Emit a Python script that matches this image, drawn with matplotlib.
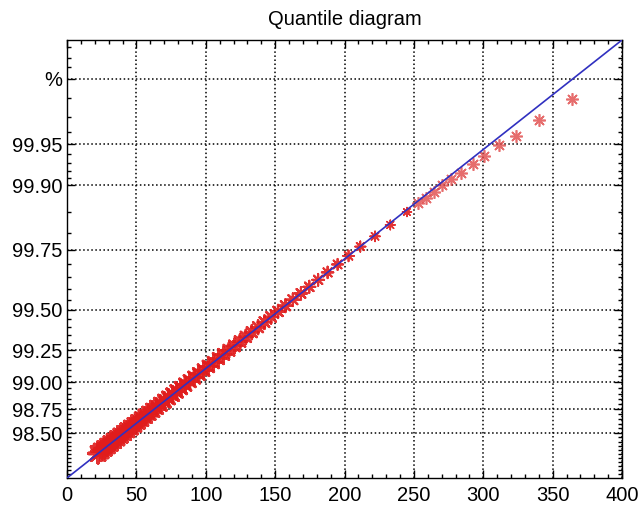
import numpy as np
import matplotlib
matplotlib.use("Agg")
import matplotlib.pyplot as plt
from matplotlib.ticker import FixedLocator, FixedFormatter, MultipleLocator

plt.rcParams['font.family'] = ['Liberation Sans', 'DejaVu Sans']

# sample quantiles (x) and their plotting positions in % (y)
band_x = [22.4, 24.6, 26.9, 29.2, 31.5, 33.8, 36.2, 38.6, 41.1, 43.5,
          46.0, 48.6, 51.1, 53.7, 56.4, 59.0, 61.8, 64.5, 67.3, 70.2,
          73.1, 76.1, 79.0, 82.1, 85.2, 88.4, 91.7, 95.0, 98.4, 101.9,
          105.5, 109.1, 112.9, 116.7, 120.6, 124.7, 128.9, 133.2, 137.7, 142.3,
          147.1, 152.1, 157.4, 162.8, 168.6, 174.6, 181.0, 187.8, 195.0, 202.9,
          211.4, 222.0, 233.0, 245.0]
band_p = [98.26, 98.29, 98.32, 98.35, 98.38, 98.41, 98.44, 98.47, 98.50, 98.53,
          98.56, 98.59, 98.62, 98.65, 98.68, 98.71, 98.74, 98.77, 98.80, 98.83,
          98.86, 98.89, 98.92, 98.95, 98.98, 99.01, 99.04, 99.07, 99.10, 99.13,
          99.16, 99.19, 99.22, 99.25, 99.28, 99.31, 99.34, 99.37, 99.40, 99.43,
          99.46, 99.49, 99.52, 99.55, 99.58, 99.61, 99.64, 99.67, 99.70, 99.73,
          99.76, 99.79, 99.82, 99.85]

tail_x = [252.8, 258.7, 264.7, 270.3, 276.5, 284.0, 292.4, 300.8, 311.1, 323.6, 340.0, 363.7]
tail_p = [99.8679, 99.8775, 99.8886, 99.8999, 99.9087, 99.9172, 99.9287, 99.9384,
          99.9492, 99.9569, 99.9683, 99.9794]

# fitted distribution line
fit_x = [0, 400]
fit_p = [97.9416, 99.99505]

ytick_vals = [98.50, 98.75, 99.00, 99.25, 99.50, 99.75, 99.90, 99.95, 99.987]
ytick_labels = ['98.50', '98.75', '99.00', '99.25', '99.50', '99.75', '99.90', '99.95', '%']


def forward(p):
    p = np.clip(np.asarray(p, dtype=float), 1e-6, 100 - 1e-9)
    return -(-np.log(1 - p / 100.0)) ** -0.5


def inverse(u):
    u = np.clip(np.asarray(u, dtype=float), -1e6, -1e-6)
    return 100.0 * (1 - np.exp(-u ** -2.0))


fig = plt.figure(figsize=(6.4, 5.05), dpi=100)
ax = fig.add_axes([0.1047, 0.0535, 0.8672, 0.8673])
ax.set_yscale('function', functions=(forward, inverse))

ax.plot(fit_x, fit_p, color='#3030c0', lw=1.2, zorder=3)

# points are packed tight at the low end, so that part reads as a thick band
bx = np.array(band_x)
frac = (bx - bx.min()) / (bx.max() - bx.min())
sizes = (13.5 - 7 * frac) ** 2
widths = 2.6 - 1.6 * frac
ax.scatter(band_x, band_p, s=sizes, marker=(8, 2, 0), linewidths=widths,
           color='#e01c1c', alpha=0.9, zorder=2)
ax.plot(tail_x, tail_p, ls='none', marker=(8, 2, 0), ms=9, mew=1.2,
        color='#e04848', alpha=0.8, zorder=2)

ax.set_xlim(0, 400)
ax.set_ylim(fit_p[0], fit_p[1])

ax.xaxis.set_major_locator(MultipleLocator(50))
ax.xaxis.set_minor_locator(MultipleLocator(10))
ax.yaxis.set_major_locator(FixedLocator(ytick_vals))
ax.yaxis.set_major_formatter(FixedFormatter(ytick_labels))
minor_y = list(np.arange(98.0, 99.90, 0.05)) + list(np.arange(99.91, 99.99, 0.01)) + [99.990, 99.992, 99.994]
ax.yaxis.set_minor_locator(FixedLocator(minor_y))
ax.yaxis.set_minor_formatter(FixedFormatter([''] * len(minor_y)))

ax.tick_params(which='both', direction='in', top=True, right=True, labelsize=14.5, width=1)
ax.tick_params(which='major', length=6)
ax.tick_params(which='minor', length=3)
ax.tick_params(axis='x', pad=6)

ax.grid(which='major', ls=':', color='black', lw=1.1)
for s in ax.spines.values():
    s.set_linewidth(1)

ax.set_title('Quantile diagram', fontsize=14.5, pad=11)

fig.savefig('out.png', dpi=100)
